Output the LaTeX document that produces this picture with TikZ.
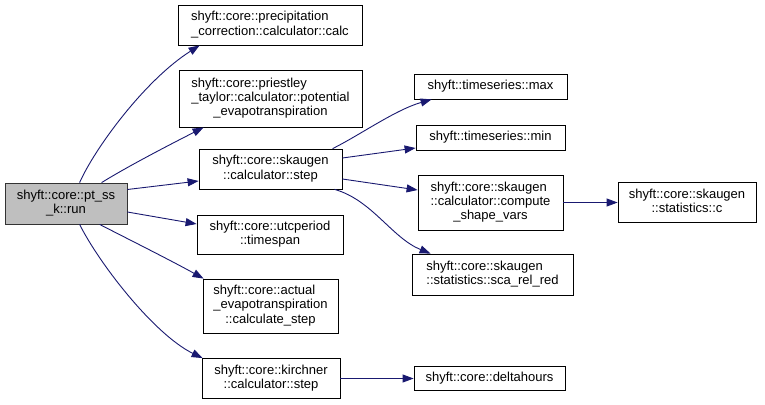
\documentclass[tikz,border=0pt]{standalone}
\usepackage{fontspec}
\setmainfont{Liberation Sans}
\usetikzlibrary{arrows.meta}
\definecolor{edgeblue}{HTML}{191970}
\definecolor{rungray}{HTML}{BFBFBF}
\newcommand\lastc[1]{\multicolumn{1}{@{}c@{}}{#1}}
\newcommand\lb[1]{\begin{tabular}{@{}l@{}}#1\end{tabular}}
\tikzset{
  fnbox/.style={draw=black, line width=0.8pt, fill=white, inner sep=0pt, align=center,
    font=\fontsize{13pt}{14.3pt}\selectfont},
  rootbox/.style={fnbox, fill=rungray, draw=black!80},
  call/.style={draw=edgeblue, line width=0.9pt, -{Triangle[length=11pt,width=8pt]}},
}
\begin{document}
\begin{tikzpicture}[x=1pt,y=-1pt]
\useasboundingbox (0,0) rectangle (765,404);
\renewcommand\arraystretch{1}
% nodes
\node[rootbox, minimum width=122pt, minimum height=41pt] (run) at (66,203.5)
  {\lb{shyft::core::pt\_ss\\\lastc{\_k::run}}};
\node[fnbox, minimum width=184pt, minimum height=40pt] (precip) at (270,25)
  {\lb{shyft::core::precipitation\\\lastc{\_correction::calculator::calc}}};
\node[fnbox, minimum width=183pt, minimum height=57pt] (priestley) at (270.5,98.5)
  {\lb{shyft::core::priestley\\\_taylor::calculator::potential\\\lastc{\_evapotranspiration}}};
\node[fnbox, minimum width=143pt, minimum height=40pt] (skstep) at (270.5,169)
  {\lb{shyft::core::skaugen\\\lastc{::calculator::step}}};
\node[fnbox, minimum width=146pt, minimum height=39pt] (utc) at (270,234.5)
  {\lb{shyft::core::utcperiod\\\lastc{::timespan}}};
\node[fnbox, minimum width=135pt, minimum height=54pt] (actual) at (270.5,306)
  {\lb{shyft::core::actual\\\_evapotranspiration\\\lastc{::calculate\_step}}};
\node[fnbox, minimum width=138pt, minimum height=40pt] (kirchner) at (271,378.5)
  {\lb{shyft::core::kirchner\\\lastc{::calculator::step}}};
\node[fnbox, minimum width=151pt, minimum height=24pt] (delta) at (489.5,378.5)
  {shyft::core::deltahours};
\node[fnbox, minimum width=153pt, minimum height=25pt] (tmax) at (490.5,86.5)
  {shyft::timeseries::max};
\node[fnbox, minimum width=149pt, minimum height=25pt] (tmin) at (490.5,137.5)
  {shyft::timeseries::min};
\node[fnbox, minimum width=145pt, minimum height=55pt] (compute) at (490.5,202.5)
  {\lb{shyft::core::skaugen\\::calculator::compute\\\lastc{\_shape\_vars}}};
\node[fnbox, minimum width=161pt, minimum height=41pt] (scarel) at (492.5,274.5)
  {\lb{shyft::core::skaugen\\\lastc{::statistics::sca\_rel\_red}}};
\node[fnbox, minimum width=138pt, minimum height=40pt] (statc) at (687,202.5)
  {\lb{shyft::core::skaugen\\\lastc{::statistics::c}}};
% edges from run
\draw[call] ([xshift=75pt]run.north west) .. controls (95,148) and (145,80) .. ([xshift=22pt]precip.south west);
\draw[call] ([xshift=97pt]run.north west) .. controls (130,165) and (175,142) .. ([xshift=25pt]priestley.south west);
\draw[call] ([yshift=14pt]run.east) -- ([yshift=-12pt]skstep.west);
\draw[call] ([yshift=-8.5pt]run.east) -- ([yshift=10.5pt]utc.west);
\draw[call] ([xshift=95pt]run.south west) .. controls (130,240) and (170,260) .. ([xshift=1pt]actual.north west);
\draw[call] ([xshift=75pt]run.south west) .. controls (100,265) and (155,335) .. ([xshift=1pt]kirchner.north west);
% edges from skaugen step
\draw[call] ([xshift=134pt]skstep.north west) .. controls (360,135) and (395,110) .. ([xshift=18pt]tmax.south west);
\draw[call] ([yshift=11pt]skstep.east) -- ([yshift=-10.5pt]tmin.west);
\draw[call] ([yshift=-10pt]skstep.east) -- ([yshift=12.5pt]compute.west);
\draw[call] ([xshift=136pt]skstep.south west) .. controls (372,200) and (392,238) .. ([xshift=19pt]scarel.north west);
% others
\draw[call] (compute.east) -- (statc.west);
\draw[call] (kirchner.east) -- (delta.west);
\end{tikzpicture}
\end{document}
